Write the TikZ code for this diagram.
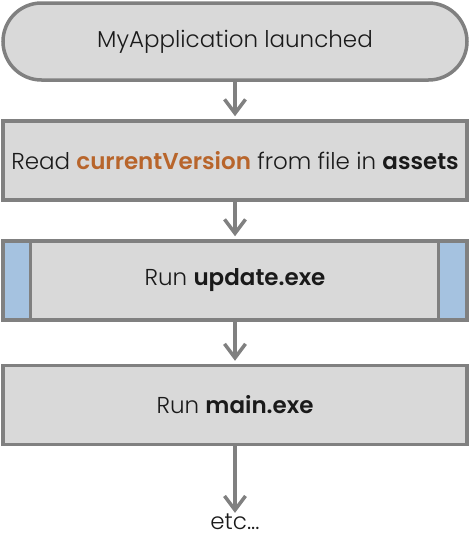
\documentclass[tikz,border=0pt]{standalone}
\usepackage{fontspec}
\setmainfont{Poppins}[UprightFont=* Light, BoldFont=* SemiBold]
\usetikzlibrary{arrows.meta}
\definecolor{boxfill}{HTML}{D9D9D9}
\definecolor{boxline}{HTML}{808080}
\definecolor{sideblue}{HTML}{A5C2E0}
\definecolor{orangetxt}{HTML}{B8652B}
\begin{document}
\begin{tikzpicture}[x=1pt,y=1pt,
  every node/.style={font=\fontsize{23}{26}\selectfont\color[HTML]{1A1A1A}},
  term/.style={draw=boxline,fill=boxfill,line width=3.5pt,rounded corners=38.5pt,minimum width=464pt,minimum height=77pt,inner sep=0pt},
  proc/.style={draw=boxline,fill=boxfill,line width=3.5pt,minimum width=464pt,minimum height=79pt,inner sep=0pt},
  predef/.style={proc,path picture={
    \fill[sideblue] (path picture bounding box.north west) rectangle ([xshift=27.5pt]path picture bounding box.south west);
    \fill[sideblue] (path picture bounding box.north east) rectangle ([xshift=-28.5pt]path picture bounding box.south east);
    \draw[boxline,line width=3.5pt] ([xshift=27.5pt]path picture bounding box.north west) -- ([xshift=27.5pt]path picture bounding box.south west);
    \draw[boxline,line width=3.5pt] ([xshift=-28.5pt]path picture bounding box.north east) -- ([xshift=-28.5pt]path picture bounding box.south east);}},
  flow/.style={draw=boxline,line width=3.5pt,-{Straight Barb[length=14pt,width=21pt,line width=3.5pt]},shorten >=3pt}
]
\useasboundingbox (0,0) rectangle (470,-546);
\node[term] (start) at (235,-41.5) {MyApplication launched};
\node[proc] (read) at (235,-160.5) {Read \textbf{\color{orangetxt}currentVersion} from file in \textbf{assets}};
\node[predef] (upd) at (235,-280.5) {Run \textbf{update.exe}};
\node[proc] (main) at (235,-405) {Run \textbf{main.exe}};
\node[inner sep=0pt] (etc) at (235,-522) {etc...};
\draw[flow] (start) -- (read);
\draw[flow] (read) -- (upd);
\draw[flow] (upd) -- (main);
\draw[flow,shorten >=1pt] (main) -- (etc);
\end{tikzpicture}
\end{document}
